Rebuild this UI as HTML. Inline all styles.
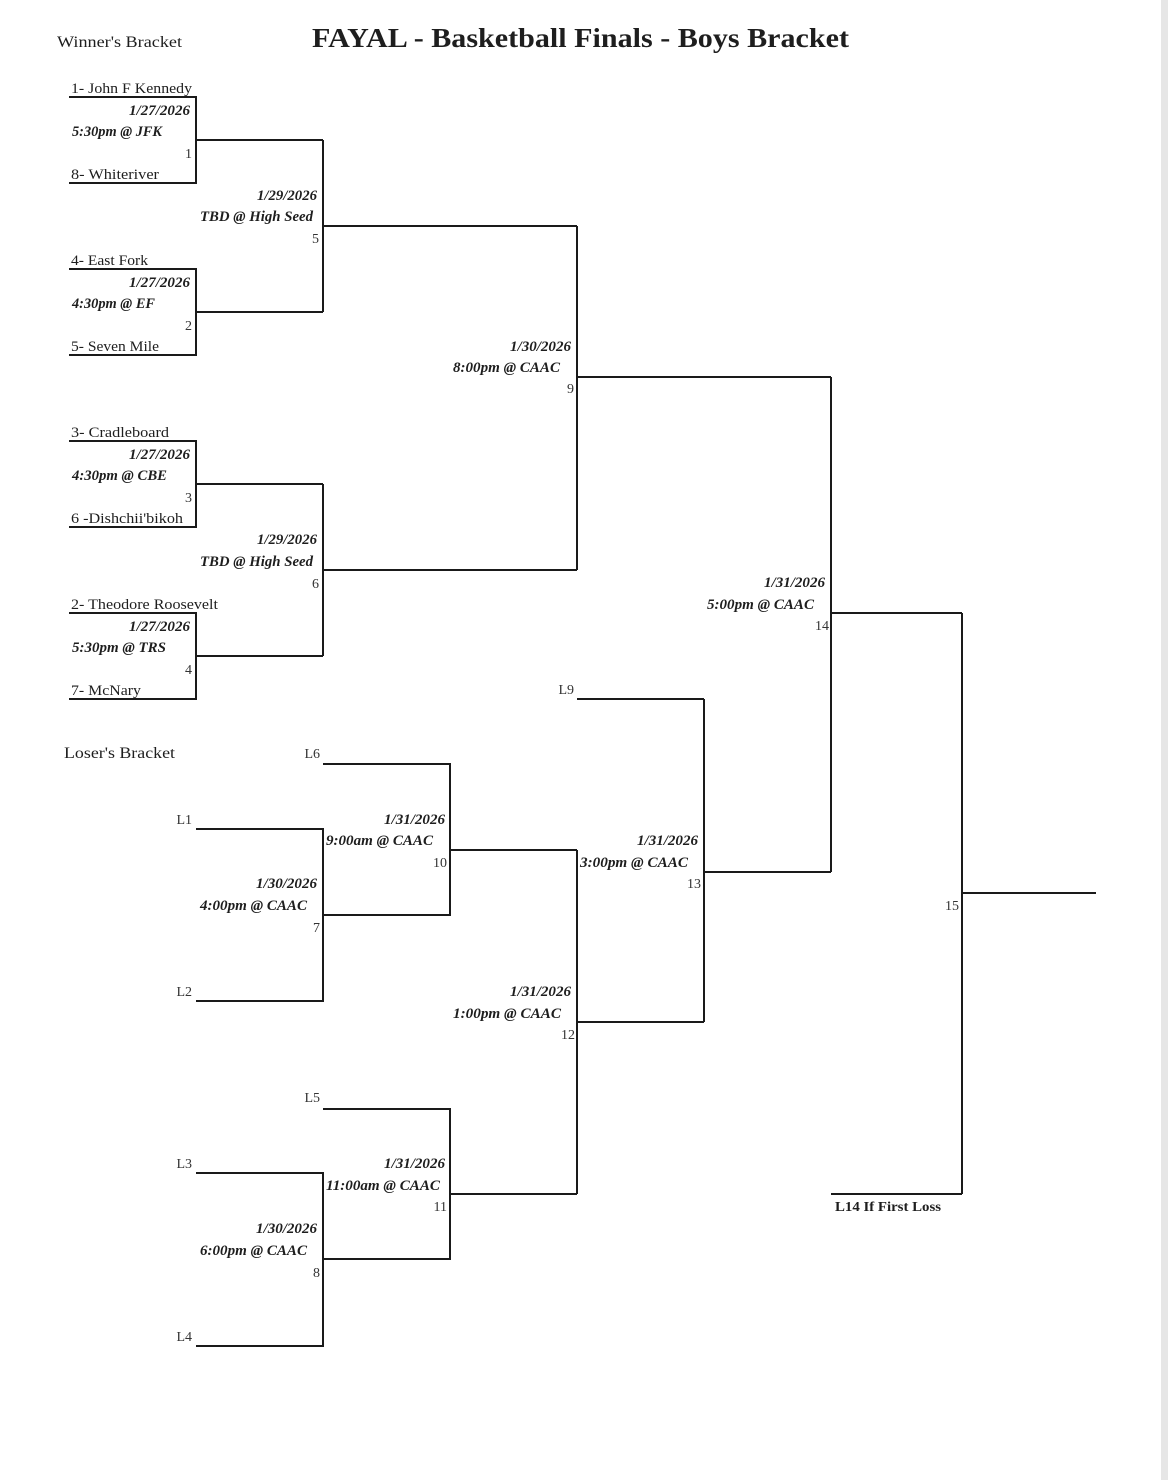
<!DOCTYPE html>
<html>
<head>
<meta charset="utf-8">
<style>
html,body{margin:0;padding:0;background:#fff;}
svg{display:block;}
text{font-family:"Liberation Serif",serif;fill:#1e1e1e;}
.t{font-size:14.5px;}
.d{font-size:14.5px;font-weight:bold;font-style:italic;}
.n{font-size:14px;fill:#333;}
</style>
</head>
<body>
<svg width="1168" height="1480" viewBox="0 0 1168 1480" xmlns="http://www.w3.org/2000/svg">
<rect x="0" y="0" width="1168" height="1480" fill="#fff"/>
<rect x="1161" y="0" width="7" height="1480" fill="#e6e6e6"/>

<!-- Titles -->
<text x="57" y="47" style="font-size:15.5px" textLength="125" lengthAdjust="spacingAndGlyphs">Winner's Bracket</text>
<text x="312" y="47" style="font-size:27px;font-weight:bold" textLength="537" lengthAdjust="spacingAndGlyphs">FAYAL - Basketball Finals - Boys Bracket</text>
<text x="64" y="758" style="font-size:16px" textLength="111" lengthAdjust="spacingAndGlyphs">Loser's Bracket</text>

<g fill="none" stroke="#1a1a1a" stroke-width="2">
<!-- Winner round 1 -->
<polyline points="69,97 196,97 196,183 69,183"/>
<line x1="196" y1="140" x2="323" y2="140"/>
<polyline points="69,269 196,269 196,355 69,355"/>
<line x1="196" y1="312" x2="323" y2="312"/>
<polyline points="69,441 196,441 196,527 69,527"/>
<line x1="196" y1="484" x2="323" y2="484"/>
<polyline points="69,613 196,613 196,699 69,699"/>
<line x1="196" y1="656" x2="323" y2="656"/>
<!-- Winner round 2 -->
<line x1="323" y1="140" x2="323" y2="312"/>
<line x1="323" y1="226" x2="577" y2="226"/>
<line x1="323" y1="484" x2="323" y2="656"/>
<line x1="323" y1="570" x2="577" y2="570"/>
<!-- Match 9 -->
<line x1="577" y1="226" x2="577" y2="570"/>
<line x1="577" y1="377" x2="831" y2="377"/>
<!-- Match 14 -->
<line x1="831" y1="377" x2="831" y2="872"/>
<line x1="831" y1="613" x2="962" y2="613"/>
<!-- Match 15 -->
<line x1="962" y1="613" x2="962" y2="1194"/>
<line x1="962" y1="893" x2="1096" y2="893"/>
<line x1="831" y1="1194" x2="962" y2="1194"/>
<!-- Match 13 -->
<line x1="577" y1="699" x2="704" y2="699"/>
<line x1="704" y1="699" x2="704" y2="1022"/>
<line x1="704" y1="872" x2="831" y2="872"/>
<line x1="577" y1="1022" x2="704" y2="1022"/>
<!-- Loser upper -->
<polyline points="323,764 450,764 450,915 323,915"/>
<line x1="450" y1="850" x2="577" y2="850"/>
<polyline points="196,829 323,829 323,1001 196,1001"/>
<!-- Match 12 -->
<line x1="577" y1="850" x2="577" y2="1194"/>
<line x1="450" y1="1194" x2="577" y2="1194"/>
<!-- Loser lower -->
<polyline points="323,1109 450,1109 450,1259 323,1259"/>
<polyline points="196,1173 323,1173 323,1346 196,1346"/>
</g>

<!-- Match 1 -->
<text class="t" x="71" y="93" textLength="121" lengthAdjust="spacingAndGlyphs">1- John F Kennedy</text>
<text class="d" x="129" y="115" textLength="61" lengthAdjust="spacingAndGlyphs">1/27/2026</text>
<text class="d" x="72" y="136" textLength="90" lengthAdjust="spacingAndGlyphs">5:30pm @ JFK</text>
<text class="n" x="192" y="158" text-anchor="end">1</text>
<text class="t" x="71" y="179" textLength="88" lengthAdjust="spacingAndGlyphs">8- Whiteriver</text>

<!-- Match 2 -->
<text class="t" x="71" y="265" textLength="77" lengthAdjust="spacingAndGlyphs">4- East Fork</text>
<text class="d" x="129" y="287" textLength="61" lengthAdjust="spacingAndGlyphs">1/27/2026</text>
<text class="d" x="72" y="308" textLength="83" lengthAdjust="spacingAndGlyphs">4:30pm @ EF</text>
<text class="n" x="192" y="330" text-anchor="end">2</text>
<text class="t" x="71" y="351" textLength="88" lengthAdjust="spacingAndGlyphs">5- Seven Mile</text>

<!-- Match 3 -->
<text class="t" x="71" y="437" textLength="98" lengthAdjust="spacingAndGlyphs">3- Cradleboard</text>
<text class="d" x="129" y="459" textLength="61" lengthAdjust="spacingAndGlyphs">1/27/2026</text>
<text class="d" x="72" y="480" textLength="95" lengthAdjust="spacingAndGlyphs">4:30pm @ CBE</text>
<text class="n" x="192" y="502" text-anchor="end">3</text>
<text class="t" x="71" y="523" textLength="112" lengthAdjust="spacingAndGlyphs">6 -Dishchii'bikoh</text>

<!-- Match 4 -->
<text class="t" x="71" y="609" textLength="147" lengthAdjust="spacingAndGlyphs">2- Theodore Roosevelt</text>
<text class="d" x="129" y="631" textLength="61" lengthAdjust="spacingAndGlyphs">1/27/2026</text>
<text class="d" x="72" y="652" textLength="94" lengthAdjust="spacingAndGlyphs">5:30pm @ TRS</text>
<text class="n" x="192" y="674" text-anchor="end">4</text>
<text class="t" x="71" y="695" textLength="70" lengthAdjust="spacingAndGlyphs">7- McNary</text>

<!-- Match 5 -->
<text class="d" x="257" y="200" textLength="60" lengthAdjust="spacingAndGlyphs">1/29/2026</text>
<text class="d" x="200" y="221" textLength="113" lengthAdjust="spacingAndGlyphs">TBD @ High Seed</text>
<text class="n" x="319" y="243" text-anchor="end">5</text>

<!-- Match 6 -->
<text class="d" x="257" y="544" textLength="60" lengthAdjust="spacingAndGlyphs">1/29/2026</text>
<text class="d" x="200" y="566" textLength="113" lengthAdjust="spacingAndGlyphs">TBD @ High Seed</text>
<text class="n" x="319" y="588" text-anchor="end">6</text>

<!-- Match 9 -->
<text class="d" x="510" y="351" textLength="61" lengthAdjust="spacingAndGlyphs">1/30/2026</text>
<text class="d" x="453" y="372" textLength="107" lengthAdjust="spacingAndGlyphs">8:00pm @ CAAC</text>
<text class="n" x="574" y="393" text-anchor="end">9</text>

<!-- Match 14 -->
<text class="d" x="764" y="587" textLength="61" lengthAdjust="spacingAndGlyphs">1/31/2026</text>
<text class="d" x="707" y="609" textLength="107" lengthAdjust="spacingAndGlyphs">5:00pm @ CAAC</text>
<text class="n" x="829" y="630" text-anchor="end">14</text>

<!-- Match 15 -->
<text class="n" x="959" y="910" text-anchor="end">15</text>
<text x="835" y="1211" style="font-size:14px;font-weight:bold" textLength="106" lengthAdjust="spacingAndGlyphs">L14 If First Loss</text>

<!-- L9 / Match 13 -->
<text class="n" x="574" y="694" text-anchor="end">L9</text>
<text class="d" x="637" y="845" textLength="61" lengthAdjust="spacingAndGlyphs">1/31/2026</text>
<text class="d" x="580" y="867" textLength="108" lengthAdjust="spacingAndGlyphs">3:00pm @ CAAC</text>
<text class="n" x="701" y="888" text-anchor="end">13</text>

<!-- Loser upper -->
<text class="n" x="320" y="758" text-anchor="end">L6</text>
<text class="n" x="192" y="824" text-anchor="end">L1</text>
<text class="d" x="384" y="824" textLength="61" lengthAdjust="spacingAndGlyphs">1/31/2026</text>
<text class="d" x="326" y="845" textLength="107" lengthAdjust="spacingAndGlyphs">9:00am @ CAAC</text>
<text class="n" x="447" y="867" text-anchor="end">10</text>
<text class="d" x="256" y="888" textLength="61" lengthAdjust="spacingAndGlyphs">1/30/2026</text>
<text class="d" x="200" y="910" textLength="107" lengthAdjust="spacingAndGlyphs">4:00pm @ CAAC</text>
<text class="n" x="320" y="932" text-anchor="end">7</text>
<text class="n" x="192" y="996" text-anchor="end">L2</text>

<!-- Match 12 -->
<text class="d" x="510" y="996" textLength="61" lengthAdjust="spacingAndGlyphs">1/31/2026</text>
<text class="d" x="453" y="1018" textLength="108" lengthAdjust="spacingAndGlyphs">1:00pm @ CAAC</text>
<text class="n" x="575" y="1039" text-anchor="end">12</text>

<!-- Loser lower -->
<text class="n" x="320" y="1102" text-anchor="end">L5</text>
<text class="n" x="192" y="1168" text-anchor="end">L3</text>
<text class="d" x="384" y="1168" textLength="61" lengthAdjust="spacingAndGlyphs">1/31/2026</text>
<text class="d" x="326" y="1190" textLength="114" lengthAdjust="spacingAndGlyphs">11:00am @ CAAC</text>
<text class="n" x="447" y="1211" text-anchor="end">11</text>
<text class="d" x="256" y="1233" textLength="61" lengthAdjust="spacingAndGlyphs">1/30/2026</text>
<text class="d" x="200" y="1255" textLength="107" lengthAdjust="spacingAndGlyphs">6:00pm @ CAAC</text>
<text class="n" x="320" y="1277" text-anchor="end">8</text>
<text class="n" x="192" y="1341" text-anchor="end">L4</text>
</svg>
</body>
</html>
